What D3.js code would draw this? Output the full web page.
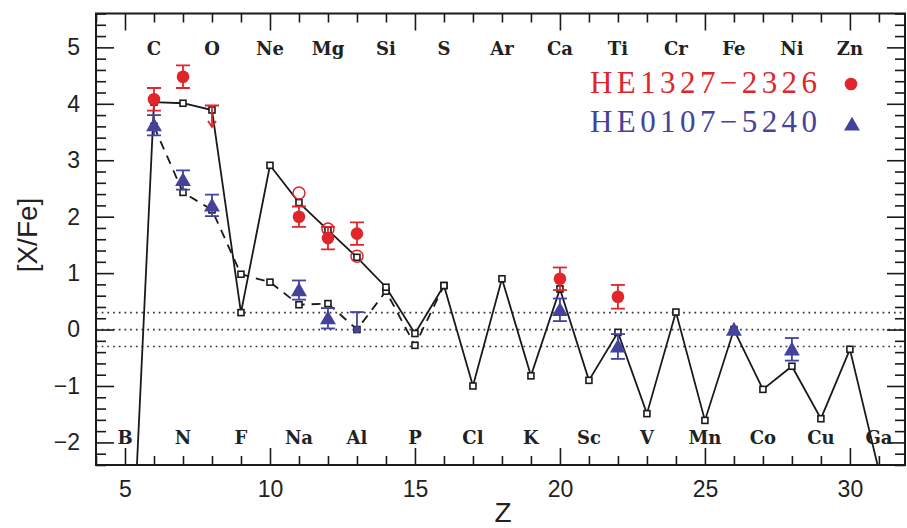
<!DOCTYPE html>
<html>
<head>
<meta charset="utf-8">
<script src="https://cdn.jsdelivr.net/npm/d3@7/dist/d3.min.js"></script>
<style>
  html, body { margin: 0; padding: 0; background: #fff; }
  svg { display: block; }
</style>
</head>
<body>
<svg id="chart" width="907" height="528"></svg>
<script>
// Element labels along the top and bottom of the frame
const topZ = [6, 8, 10, 12, 14, 16, 18, 20, 22, 24, 26, 28, 30];
const topElems = ["C", "O", "Ne", "Mg", "Si", "S", "Ar", "Ca", "Ti", "Cr", "Fe", "Ni", "Zn"];
const bottomZ = [5, 7, 9, 11, 13, 15, 17, 19, 21, 23, 25, 27, 29, 31];
const bottomElems = ["B", "N", "F", "Na", "Al", "P", "Cl", "K", "Sc", "V", "Mn", "Co", "Cu", "Ga"];

// Tick values
const xMajorTicks = [5, 10, 15, 20, 25, 30];
const yMajorTicks = [-2, -1, 0, 1, 2, 3, 4, 5];
const refLevels = [0.3, 0, -0.3];

// Model yields (solid line), Z = 5 .. 31
const modelSolidZ = [5, 6, 7, 8, 9, 10, 11, 12, 13, 14, 15, 16, 17, 18, 19, 20, 21, 22, 23, 24, 25, 26, 27, 28, 29, 30, 31];
const modelSolid = [-6.9, 4.03, 4.01, 3.89, 0.30, 2.91, 2.25, 1.76, 1.28, 0.75, -0.07, 0.78, -1.00, 0.90, -0.82, 0.72, -0.90, -0.05, -1.49, 0.31, -1.61, 0.00, -1.06, -0.65, -1.58, -0.35, -2.5];

// Model yields (dashed line), Z = 6 .. 16
const modelDashedZ = [6, 7, 8, 9, 10, 11, 12, 13, 14, 15, 16];
const modelDashed = [3.60, 2.43, 2.12, 0.98, 0.84, 0.44, 0.46, 0.00, 0.68, -0.28, 0.78];

// HE1327-2326 abundances
const redZ = [6, 7, 11, 12, 13, 20, 22];
const redVal = [4.08, 4.48, 2.00, 1.62, 1.70, 0.90, 0.58];
const redErr = [0.20, 0.20, 0.18, 0.20, 0.20, 0.20, 0.21];
const redLimitZ = [8];
const redLimitVal = [3.97];
const redOpenZ = [11, 12, 13];
const redOpenVal = [2.42, 1.78, 1.30];

// HE0107-5240 abundances
const blueZ = [6, 7, 8, 11, 12, 20, 22, 26, 28];
const blueVal = [3.62, 2.65, 2.20, 0.70, 0.20, 0.35, -0.30, 0.00, -0.35];
const blueErr = [0.18, 0.17, 0.19, 0.17, 0.18, 0.20, 0.22, 0, 0.20];
const blueRangeZ = [13];
const blueRangeLow = [0.00];
const blueRangeHigh = [0.31];

const seriesNames = ["HE1327\u22122326", "HE0107\u22125240"];

const RED = "#e0262a";
const BLUE = "#43439e";
const INK = "#1a1a1a";

const svg = d3.select("#chart");
const L = 96, R = 905, T = 13.5, B = 465;

const x = d3.scaleLinear().domain([4, 31.9]).range([L, R]);
const y = d3.scaleLinear().domain([-2.4, 5.6]).range([B, T]);

svg.append("defs").append("clipPath").attr("id", "plotclip")
  .append("rect").attr("x", L).attr("y", T).attr("width", R - L).attr("height", B - T);

const plot = svg.append("g").attr("clip-path", "url(#plotclip)");

// Dotted reference levels
plot.selectAll("line.ref").data(refLevels).join("line")
  .attr("class", "ref")
  .attr("x1", L).attr("x2", R)
  .attr("y1", d => y(d)).attr("y2", d => y(d))
  .attr("stroke", "#333").attr("stroke-width", 1.7)
  .attr("stroke-dasharray", "1.7,4");

// Model lines
const line = d3.line().x(d => x(d[0])).y(d => y(d[1]));
const solidPts = modelSolidZ.map((z, i) => [z, modelSolid[i]]);
const dashedPts = modelDashedZ.map((z, i) => [z, modelDashed[i]]);

plot.append("path").datum(dashedPts)
  .attr("d", line).attr("fill", "none")
  .attr("stroke", INK).attr("stroke-width", 1.8)
  .attr("stroke-dasharray", "9,7");
plot.append("path").datum(solidPts)
  .attr("d", line).attr("fill", "none")
  .attr("stroke", INK).attr("stroke-width", 1.8);

// Open square markers on model points
const sq = 6;
const squarePts = dashedPts.concat(solidPts.filter(d => d[0] >= 6 && d[0] <= 30));
plot.selectAll("rect.sq").data(squarePts).join("rect")
  .attr("class", "sq")
  .attr("x", d => x(d[0]) - sq / 2).attr("y", d => y(d[1]) - sq / 2)
  .attr("width", sq).attr("height", sq)
  .attr("fill", "#fff").attr("stroke", INK).attr("stroke-width", 1.6);

// Error bar helper
function errBar(g, z, lo, hi, color, capLo, capHi) {
  const cx = x(z), hw = 7;
  g.append("line").attr("x1", cx).attr("x2", cx).attr("y1", y(lo)).attr("y2", y(hi))
    .attr("stroke", color).attr("stroke-width", 1.8);
  if (capHi) g.append("line").attr("x1", cx - hw).attr("x2", cx + hw).attr("y1", y(hi)).attr("y2", y(hi))
    .attr("stroke", color).attr("stroke-width", 1.8);
  if (capLo) g.append("line").attr("x1", cx - hw).attr("x2", cx + hw).attr("y1", y(lo)).attr("y2", y(lo))
    .attr("stroke", color).attr("stroke-width", 1.8);
}

const marks = plot.append("g");
const tri = d3.symbol().type(d3.symbolTriangle).size(110);

// HE0107-5240 points
blueZ.forEach((z, i) => {
  if (blueErr[i] > 0) errBar(marks, z, blueVal[i] - blueErr[i], blueVal[i] + blueErr[i], BLUE, true, true);
});
blueRangeZ.forEach((z, i) => {
  errBar(marks, z, blueRangeLow[i], blueRangeHigh[i], BLUE, false, true);
  marks.append("circle").attr("cx", x(z)).attr("cy", y(blueRangeLow[i])).attr("r", 3.5).attr("fill", BLUE);
});
marks.selectAll("path.tri").data(blueZ.map((z, i) => [z, blueVal[i]])).join("path")
  .attr("class", "tri")
  .attr("d", tri)
  .attr("transform", d => `translate(${x(d[0])},${y(d[1]) + 1.5})`)
  .attr("fill", BLUE);

// HE1327-2326 points
redZ.forEach((z, i) => errBar(marks, z, redVal[i] - redErr[i], redVal[i] + redErr[i], RED, true, true));
redLimitZ.forEach((z, i) => {
  const cx = x(z), top = y(redLimitVal[i]), bot = y(redLimitVal[i] - 0.38);
  marks.append("line").attr("x1", cx - 7).attr("x2", cx + 7).attr("y1", top).attr("y2", top)
    .attr("stroke", RED).attr("stroke-width", 1.8);
  marks.append("line").attr("x1", cx).attr("x2", cx).attr("y1", top).attr("y2", bot)
    .attr("stroke", RED).attr("stroke-width", 1.8);
  marks.append("path").attr("d", `M${cx - 4},${bot - 6}L${cx},${bot}L${cx + 4},${bot - 6}`)
    .attr("fill", "none").attr("stroke", RED).attr("stroke-width", 1.8);
});
marks.selectAll("circle.open").data(redOpenZ.map((z, i) => [z, redOpenVal[i]])).join("circle")
  .attr("class", "open")
  .attr("cx", d => x(d[0])).attr("cy", d => y(d[1])).attr("r", 6)
  .attr("fill", "none").attr("stroke", RED).attr("stroke-width", 1.5);
marks.selectAll("circle.dot").data(redZ.map((z, i) => [z, redVal[i]])).join("circle")
  .attr("class", "dot")
  .attr("cx", d => x(d[0])).attr("cy", d => y(d[1])).attr("r", 6.3)
  .attr("fill", RED);

// Axes with inward ticks on all four sides
const tickFont = "'Liberation Sans', Arial, sans-serif";
const xMinor = d3.range(4, 32, 1).filter(v => v % 5 !== 0);
const yMinor = d3.range(-2.4, 5.61, 0.2).map(v => Math.round(v * 10) / 10).filter(v => Math.abs(v - Math.round(v)) > 0.01);

function styleAxis(g) {
  g.select(".domain").remove();
  g.selectAll(".tick line").attr("stroke", INK).attr("stroke-width", 1.6);
}

svg.append("g").attr("transform", `translate(0,${B})`)
  .call(d3.axisBottom(x).tickValues(xMajorTicks).tickSize(-17).tickPadding(15.5).tickFormat(d3.format("d")))
  .call(styleAxis)
  .call(g => g.selectAll("text").attr("font-family", tickFont).attr("font-size", 23).attr("fill", "#222"));
svg.append("g").attr("transform", `translate(0,${B})`)
  .call(d3.axisBottom(x).tickValues(xMinor).tickSize(-9).tickFormat(""))
  .call(styleAxis);
svg.append("g").attr("transform", `translate(0,${T})`)
  .call(d3.axisTop(x).tickValues(xMajorTicks).tickSize(-17).tickFormat(""))
  .call(styleAxis);
svg.append("g").attr("transform", `translate(0,${T})`)
  .call(d3.axisTop(x).tickValues(xMinor).tickSize(-9).tickFormat(""))
  .call(styleAxis);

svg.append("g").attr("transform", `translate(${L},0)`)
  .call(d3.axisLeft(y).tickValues(yMajorTicks).tickSize(-18).tickPadding(16).tickFormat(d3.format("d")))
  .call(styleAxis)
  .call(g => g.selectAll("text").attr("font-family", tickFont).attr("font-size", 23).attr("fill", "#222"));
svg.append("g").attr("transform", `translate(${L},0)`)
  .call(d3.axisLeft(y).tickValues(yMinor).tickSize(-10).tickFormat(""))
  .call(styleAxis);
svg.append("g").attr("transform", `translate(${R},0)`)
  .call(d3.axisRight(y).tickValues(yMajorTicks).tickSize(-18).tickFormat(""))
  .call(styleAxis);
svg.append("g").attr("transform", `translate(${R},0)`)
  .call(d3.axisRight(y).tickValues(yMinor).tickSize(-10).tickFormat(""))
  .call(styleAxis);

// Frame
svg.append("rect").attr("x", L).attr("y", T).attr("width", R - L).attr("height", B - T)
  .attr("fill", "none").attr("stroke", INK).attr("stroke-width", 2);

// Element names
const elemFont = "'DejaVu Serif', serif";
svg.selectAll("text.etop").data(topZ.map((z, i) => [z, topElems[i]])).join("text")
  .attr("class", "etop")
  .attr("x", d => x(d[0])).attr("y", 55)
  .attr("text-anchor", "middle").attr("font-family", elemFont).attr("font-weight", "bold")
  .attr("font-size", 18).attr("fill", "#222").text(d => d[1]);
svg.selectAll("text.ebot").data(bottomZ.map((z, i) => [z, bottomElems[i]])).join("text")
  .attr("class", "ebot")
  .attr("x", d => x(d[0])).attr("y", 444)
  .attr("text-anchor", "middle").attr("font-family", elemFont).attr("font-weight", "bold")
  .attr("font-size", 18).attr("fill", "#222").text(d => d[1]);

// Legend
const legendFont = "'Liberation Serif', 'Times New Roman', serif";
svg.append("text").attr("x", 590).attr("y", 93).attr("font-family", legendFont)
  .attr("font-size", 31).attr("fill", RED)
  .attr("textLength", 227).attr("lengthAdjust", "spacing").text(seriesNames[0]);
svg.append("text").attr("x", 590).attr("y", 132).attr("font-family", legendFont)
  .attr("font-size", 31).attr("fill", BLUE)
  .attr("textLength", 227).attr("lengthAdjust", "spacing").text(seriesNames[1]);
svg.append("circle").attr("cx", 851).attr("cy", 84).attr("r", 6.3).attr("fill", RED);
svg.append("path").attr("d", tri).attr("transform", "translate(852,126)").attr("fill", BLUE);

// Axis titles
svg.append("text").attr("x", 503).attr("y", 522).attr("text-anchor", "middle")
  .attr("font-family", tickFont).attr("font-size", 28).attr("fill", "#222").text("Z");
svg.append("text").attr("transform", "translate(37,235) rotate(-90)").attr("text-anchor", "middle")
  .attr("font-family", tickFont).attr("font-size", 28).attr("fill", "#222").text("[X/Fe]");
</script>
</body>
</html>
